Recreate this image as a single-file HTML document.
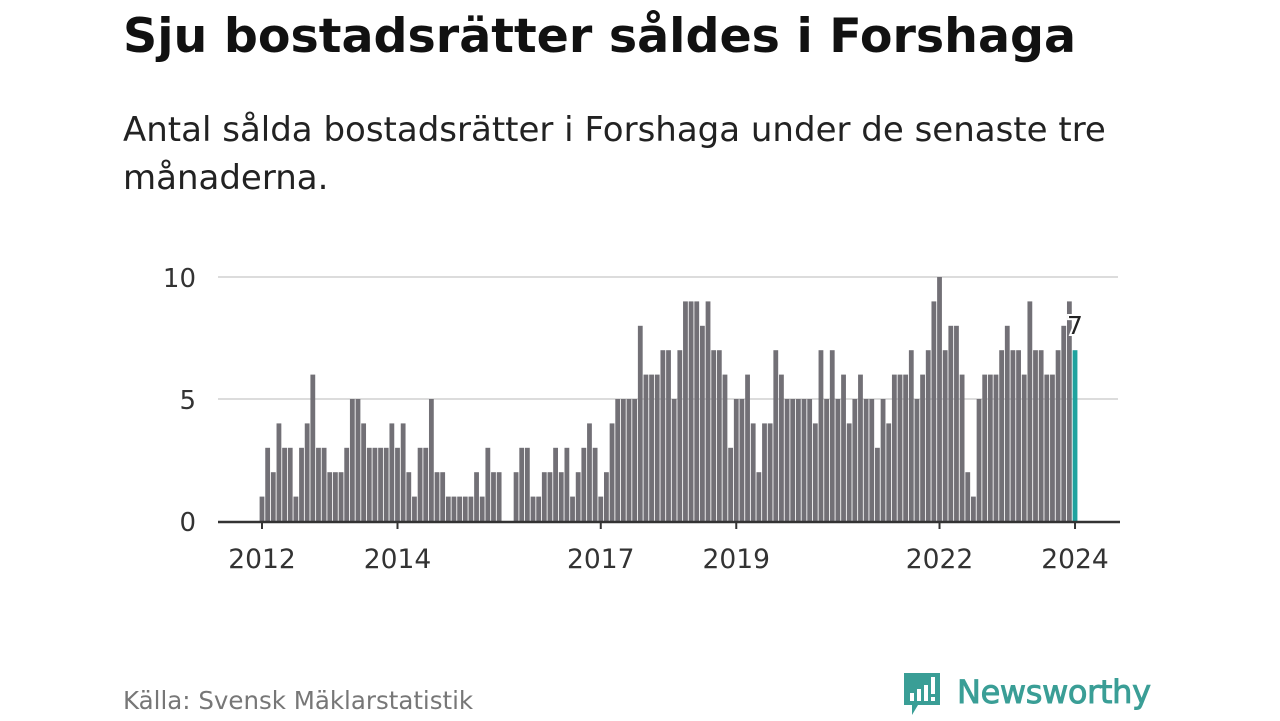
<!DOCTYPE html>
<html><head><meta charset="utf-8">
<style>
body{margin:0;width:1280px;height:720px;background:#fff;overflow:hidden;font-family:"DejaVu Sans","Liberation Sans",sans-serif;position:relative}
#title{position:absolute;left:123px;top:9px;font-size:47.5px;font-weight:bold;color:#111;margin:0;white-space:nowrap}
#sub{position:absolute;left:123px;top:106px;font-size:34px;line-height:48px;color:#222;width:1060px}
#src{position:absolute;left:123px;top:686px;font-size:24.5px;color:#777}
#chart{position:absolute;left:0;top:0}
</style></head><body>
<h1 id="title">Sju bostadsrätter såldes i Forshaga</h1>
<div id="sub">Antal sålda bostadsrätter i Forshaga under de senaste tre månaderna.</div>
<svg id="chart" width="1280" height="720"></svg>
<div id="src">Källa: Svensk Mäklarstatistik</div>
<svg style="position:absolute;left:902px;top:671px" width="270" height="50">
<path d="M2 2h36v32h-22l-6 10v-10h-8z" fill="#3a9e96"/>
<rect x="8" y="22" width="4" height="8" fill="#fff"/><rect x="15" y="18" width="4" height="12" fill="#fff"/><rect x="22" y="14" width="4" height="16" fill="#fff"/><rect x="29" y="6" width="4" height="17" fill="#fff"/><rect x="29" y="26" width="4" height="4" fill="#fff"/>
<text x="55" y="32" font-size="32" fill="#3a9e96" stroke="#3a9e96" stroke-width="0.9" font-family="DejaVu Sans, sans-serif" textLength="194">Newsworthy</text>
</svg>
<script>
const values=[1,3,2,4,3,3,1,3,4,6,3,3,
2,2,2,3,5,5,4,3,3,3,3,4,
3,4,2,1,3,3,5,2,2,1,1,1,
1,1,2,1,3,2,2,0,0,2,3,3,
1,1,2,2,3,2,3,1,2,3,4,3,
1,2,4,5,5,5,5,8,6,6,6,7,
7,5,7,9,9,9,8,9,7,7,6,3,
5,5,6,4,2,4,4,7,6,5,5,5,
5,5,4,7,5,7,5,6,4,5,6,5,
5,3,5,4,6,6,6,7,5,6,7,9,
10,7,8,8,6,2,1,5,6,6,6,7,
8,7,7,6,9,7,7,6,6,7,8,9,
7];
const yTicks=[0,5,10];
const xTickYears=[2012,2014,2017,2019,2022,2024];
const startYear=2012;
const svg=document.getElementById('chart');
const NS='http://www.w3.org/2000/svg';
const x0=262,step=5.646,y0=521,yScale=24.4;
const xPos=i=>x0+i*step;
const yPos=v=>y0-v*yScale;
function mk(t,a){const e=document.createElementNS(NS,t);for(const k in a)e.setAttribute(k,a[k]);svg.appendChild(e);return e;}
yTicks.forEach(v=>{
 if(v>0){const g=mk('line',{x1:218,x2:1118,y1:yPos(v),y2:yPos(v),stroke:'#dcdcdc','stroke-width':2});
 
 }
 const t=mk('text',{x:196,y:yPos(v)+10,'text-anchor':'end','font-size':26,fill:'#333','font-family':'DejaVu Sans, sans-serif'});
 t.textContent=v;
 
 
});
values.forEach((v,i)=>{
 const last=i===values.length-1;
 const r=mk('rect',{x:xPos(i)-2.4,y:yPos(v),width:4.8,height:v*yScale,fill:last?'#20a39e':'#727076'});
 
 
});
const ax=mk('line',{x1:218,x2:1120,y1:y0+1,y2:y0+1,stroke:'#333','stroke-width':2.5});


xTickYears.forEach(y=>{
 const x=xPos((y-startYear)*12);
 const tk=mk('line',{x1:x,x2:x,y1:y0,y2:y0+8,stroke:'#333','stroke-width':2});
 
 
 const t=mk('text',{x:x,y:568,'text-anchor':'middle','font-size':26.5,fill:'#333','font-family':'DejaVu Sans, sans-serif'});
 t.textContent=y;
 
 
});
const li=values.length-1;
const lab=mk('text',{x:xPos(li)-8,y:yPos(values[li])-16,'font-size':25,fill:'#222',stroke:'#fff','stroke-width':4,'paint-order':'stroke','font-family':'DejaVu Sans, sans-serif'});
lab.textContent=values[li];


</script>
</body></html>
